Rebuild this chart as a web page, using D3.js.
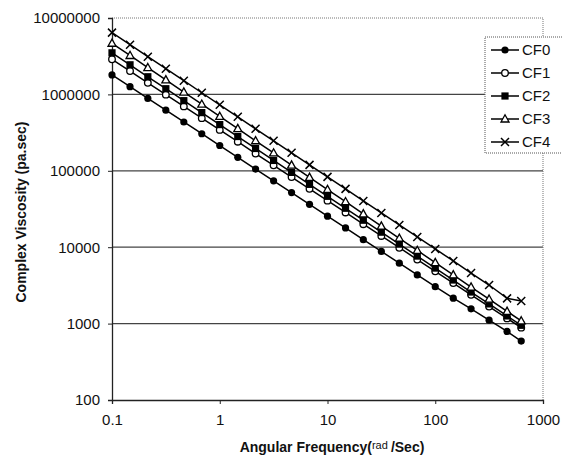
<!DOCTYPE html>
<html>
<head>
<meta charset="utf-8">
<script src="https://cdn.jsdelivr.net/npm/d3@7"></script>
<style>
  body { margin: 0; background: #fff; }
  svg { font-family: Arial, "Liberation Sans", sans-serif; }
</style>
</head>
<body>
<div id="chart"></div>
<script>
// angular frequency (rad/sec), 6 points per decade plus the last point
const freq = [0.1, 0.147, 0.215, 0.316, 0.464, 0.681, 1, 1.47, 2.15, 3.16, 4.64, 6.81,
              10, 14.7, 21.5, 31.6, 46.4, 68.1, 100, 147, 215, 316, 464, 628];

const cf0 = [1800000, 1262000, 885000, 621000, 435500, 305500, 214300, 150300, 105400, 74000, 51900, 36400,
             25500, 17900, 12560, 8810, 6180, 4340, 3040, 2150, 1560, 1110, 790, 590];
const cf1 = [2884000, 2023000, 1419000, 993000, 697000, 489000, 343000, 240400, 168300, 118000, 82800, 58100,
             40700, 28500, 20000, 14030, 9840, 6900, 4830, 3390, 2380, 1670, 1170, 885];
const cf2 = [3500000, 2441000, 1702000, 1187000, 828000, 577600, 402700, 280900, 195900, 136600, 95300, 66450,
             46350, 32330, 22540, 15720, 10960, 7650, 5330, 3720, 2590, 1810, 1260, 950];
const cf3 = [4670000, 3232000, 2239000, 1550000, 1074000, 743800, 515200, 356800, 247200, 171200, 118600, 82120,
             56900, 39400, 27290, 18900, 13090, 9070, 6280, 4350, 3010, 2090, 1445, 1085];
const cf4 = [6430000, 4475000, 3114000, 2169000, 1510000, 1051000, 731500, 509300, 354500, 246800, 171800, 119600,
             83260, 57960, 40350, 28090, 19550, 13610, 9480, 6600, 4590, 3200, 2140, 1980];

const seriesNames = ["CF0", "CF1", "CF2", "CF3", "CF4"];
const seriesValues = [cf0, cf1, cf2, cf3, cf4];
const markerTypes = ["dot", "circle", "square", "triangle", "cross"];

const xTicks = [0.1, 1, 10, 100, 1000];
const yTicks = [100, 1000, 10000, 100000, 1000000, 10000000];

const width = 562, height = 463;
const margin = { top: 18, right: 19, bottom: 63, left: 112 };
const innerW = width - margin.left - margin.right;
const innerH = height - margin.top - margin.bottom;

const svg = d3.select("#chart").append("svg")
    .attr("width", width)
    .attr("height", height);

const x = d3.scaleLog().domain([0.1, 1000]).range([margin.left, margin.left + innerW]);
const y = d3.scaleLog().domain([100, 10000000]).range([margin.top + innerH, margin.top]);

// gridlines
svg.append("g")
    .selectAll("line")
    .data(yTicks.filter(d => d > 100 && d < 10000000))
    .enter().append("line")
    .attr("x1", margin.left)
    .attr("x2", margin.left + innerW)
    .attr("y1", d => y(d))
    .attr("y2", d => y(d))
    .attr("stroke", "#444")
    .attr("stroke-width", 1.2);

// top and right borders (dotted)
svg.append("path")
    .attr("d", `M${margin.left},${margin.top}H${margin.left + innerW}V${margin.top + innerH}`)
    .attr("fill", "none")
    .attr("stroke", "#777")
    .attr("stroke-width", 1)
    .attr("stroke-dasharray", "1,1");

// axes
const xAxis = svg.append("g")
    .attr("transform", `translate(0, ${margin.top + innerH})`)
    .call(d3.axisBottom(x).tickValues(xTicks).tickSize(4).tickPadding(10)
        .tickFormat(d => String(d)));

const yAxis = svg.append("g")
    .attr("transform", `translate(${margin.left}, 0)`)
    .call(d3.axisLeft(y).tickValues(yTicks).tickSize(4).tickPadding(8)
        .tickFormat(d => String(d)));

[xAxis, yAxis].forEach(a => {
    a.select(".domain").attr("stroke", "#222").attr("stroke-width", 1.3);
    a.selectAll(".tick line").attr("stroke", "#222");
    a.selectAll(".tick text")
        .attr("fill", "#111")
        .style("font-size", "15px")
        .style("font-family", "Arial, 'Liberation Sans', sans-serif");
});

// lines
const line = d3.line()
    .x((d, i) => x(freq[i]))
    .y(d => y(d));

function drawMarker(g, type, cx, cy) {
    if (type === "dot") {
        g.append("circle").attr("cx", cx).attr("cy", cy).attr("r", 3.6).attr("fill", "#000");
    } else if (type === "circle") {
        g.append("circle").attr("cx", cx).attr("cy", cy).attr("r", 3.3)
            .attr("fill", "#fff").attr("stroke", "#000").attr("stroke-width", 1.3);
    } else if (type === "square") {
        g.append("rect").attr("x", cx - 3.6).attr("y", cy - 3.6).attr("width", 7.2).attr("height", 7.2)
            .attr("fill", "#000");
    } else if (type === "triangle") {
        g.append("path").attr("d", `M${cx},${cy - 4.2}L${cx + 4},${cy + 3}L${cx - 4},${cy + 3}Z`)
            .attr("fill", "#fff").attr("stroke", "#000").attr("stroke-width", 1.3);
    } else if (type === "cross") {
        g.append("path").attr("d", `M${cx - 4},${cy - 4}L${cx + 4},${cy + 4}M${cx - 4},${cy + 4}L${cx + 4},${cy - 4}`)
            .attr("stroke", "#000").attr("stroke-width", 1.5);
    }
}

seriesValues.forEach((vals, s) => {
    const g = svg.append("g").attr("class", "series");
    g.append("path")
        .datum(vals)
        .attr("d", line)
        .attr("fill", "none")
        .attr("stroke", "#000")
        .attr("stroke-width", 1.5);
    vals.forEach((v, i) => drawMarker(g, markerTypes[s], x(freq[i]), y(v)));
});

// legend
const legend = svg.append("g").attr("transform", "translate(485, 37)");
legend.append("rect")
    .attr("x", 0).attr("y", 0)
    .attr("width", 90).attr("height", 116)
    .attr("fill", "#fff")
    .attr("stroke", "#555")
    .attr("stroke-dasharray", "1,1");

seriesNames.forEach((name, i) => {
    const ly = 13 + i * 23;
    const item = legend.append("g");
    item.append("line").attr("x1", 6).attr("x2", 34).attr("y1", ly).attr("y2", ly)
        .attr("stroke", "#000").attr("stroke-width", 1.5);
    drawMarker(item, markerTypes[i], 20, ly);
    item.append("text").attr("x", 37).attr("y", ly + 5)
        .text(name)
        .style("font-size", "15px")
        .attr("fill", "#111");
});

// axis titles
const xTitle = svg.append("text")
    .attr("x", 332).attr("y", 452)
    .attr("text-anchor", "middle")
    .style("font-size", "14px")
    .style("font-weight", "bold")
    .attr("fill", "#111");
xTitle.append("tspan").text("Angular Frequency(");
xTitle.append("tspan").text("rad ").style("font-size", "11px").style("font-weight", "normal").attr("dy", -3);
xTitle.append("tspan").text("/Sec)").attr("dy", 3);

svg.append("text")
    .attr("transform", "translate(26, 212) rotate(-90)")
    .attr("text-anchor", "middle")
    .style("font-size", "14px")
    .style("font-weight", "bold")
    .attr("fill", "#111")
    .text("Complex Viscosity (pa.sec)");
</script>
</body>
</html>
